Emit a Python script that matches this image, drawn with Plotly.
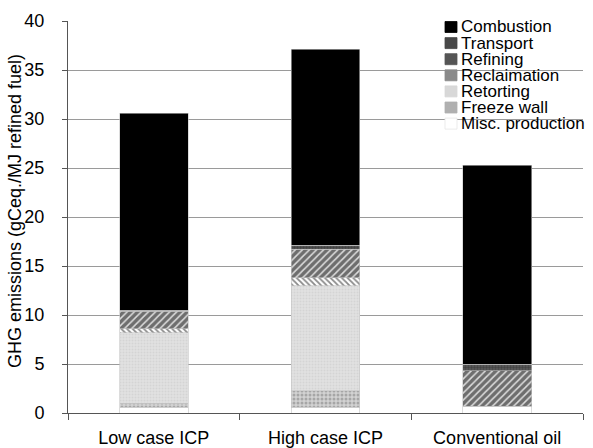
import plotly.graph_objects as go

categories = ["Low case ICP", "High case ICP", "Conventional oil"]
series_names = ["Misc. production", "Freeze wall", "Retorting", "Reclaimation",
                "Refining", "Transport", "Combustion"]
misc_production = [0.6, 0.6, 0.7]
freeze_wall = [0.4, 1.65, 0.0]
retorting = [7.2, 10.75, 0.0]
reclaimation = [0.4, 0.8, 0.0]
refining = [1.8, 2.9, 3.6]
transport = [0.1, 0.4, 0.7]
combustion = [20.1, 20.0, 20.3]
values = [misc_production, freeze_wall, retorting, reclaimation, refining, transport, combustion]
y_title = "GHG emissions (gCeq./MJ refined fuel)"

styles = {
    "Misc. production": dict(color="white", pattern=dict(shape=""), swatch="white"),
    "Freeze wall": dict(color="#d2d2d2", pattern=dict(shape=".", fgcolor="#7a7a7a", size=4, solidity=0.45), swatch="#b0b0b0"),
    "Retorting": dict(color="#e2e2e2", pattern=dict(shape=".", fgcolor="#c6c6c6", size=3, solidity=0.4), swatch="#d8d8d8"),
    "Reclaimation": dict(color="white", pattern=dict(shape="\\", fgcolor="#111111", size=4, solidity=0.45), swatch="#8a8a8a"),
    "Refining": dict(color="#dddddd", pattern=dict(shape="/", fgcolor="black", size=5, solidity=0.7), swatch="#555555"),
    "Transport": dict(color="#5c5c5c", pattern=dict(shape=".", fgcolor="#2a2a2a", size=3, solidity=0.5), swatch="#484848"),
    "Combustion": dict(color="black", pattern=dict(shape=""), swatch="black"),
}

W, H = 593, 448
L, R, T, B = 68, 10, 21, 35
pw, ph = W - L - R, H - T - B

fig = go.Figure()
for name, vals in zip(series_names, values):
    st = styles[name]
    fig.add_trace(go.Bar(
        name=name, x=categories, y=vals, showlegend=False,
        marker=dict(color=st["color"], pattern=st["pattern"],
                    line=dict(color="#c4c4c4", width=0.6)),
    ))

def px2paper(x, y):
    return (x - L) / pw, 1 - (y - T) / ph

# manual compact legend (top right), Combustion first
shapes = []
annotations = []
row0, dy = 27, 16.1
for i, name in enumerate(reversed(series_names)):
    yc = row0 + i * dy
    x0, y0 = px2paper(445, yc - 5.5)
    x1, y1 = px2paper(457, yc + 5.5)
    shapes.append(dict(type="rect", xref="paper", yref="paper", x0=x0, x1=x1, y0=y1, y1=y0,
                       fillcolor=styles[name]["swatch"],
                       line=dict(color="#e6e6e6" if name == "Misc. production" else styles[name]["swatch"], width=0.8)))
    tx, ty = px2paper(459, yc)
    annotations.append(dict(text=name, xref="paper", yref="paper", x=tx, y=ty,
                            xanchor="left", yanchor="middle", showarrow=False,
                            font=dict(size=17, color="black")))

# y-axis title
tx, ty = px2paper(15, 211)
annotations.append(dict(text=y_title, xref="paper", yref="paper", x=tx, y=ty,
                        xanchor="center", yanchor="middle", textangle=-90, showarrow=False,
                        font=dict(size=18, color="black")))

fig.update_layout(
    barmode="stack",
    bargap=0.6,
    width=W, height=H,
    margin=dict(l=L, r=R, t=T, b=B, autoexpand=False),
    paper_bgcolor="white", plot_bgcolor="white",
    font=dict(family="Liberation Sans, Arial, sans-serif", size=17, color="black"),
    showlegend=False,
    shapes=shapes,
    annotations=annotations,
)
fig.update_yaxes(range=[0, 40], dtick=5, showgrid=True, gridcolor="#9a9a9a", gridwidth=1,
                 showline=True, linecolor="#555555", linewidth=1, ticks="outside", ticklen=5,
                 tickcolor="#555555", zeroline=False, ticklabelstandoff=14,
                 tickfont=dict(size=18), automargin=False)
fig.update_xaxes(showline=True, linecolor="#555555", linewidth=1, ticks="outside", ticklen=6,
                 tickcolor="#555555", tickson="boundaries", tickfont=dict(size=18),
                 ticklabelstandoff=8, automargin=False)

fig.write_html("out.html", config={"displayModeBar": False},
               post_script="document.body.style.margin='0px';")
